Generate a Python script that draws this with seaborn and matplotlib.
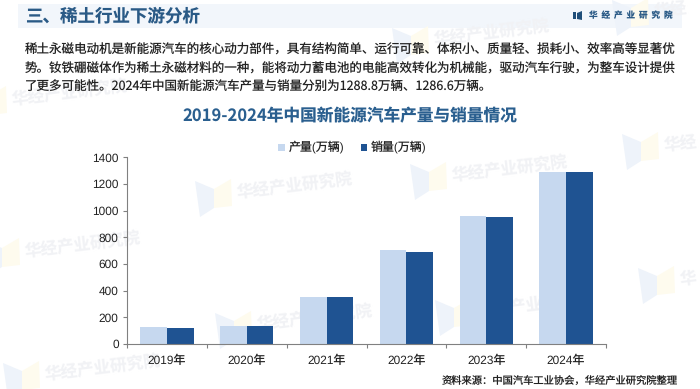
# 2019-2024 中国新能源汽车产量与销量
import matplotlib
matplotlib.use('Agg')
import matplotlib.pyplot as plt
import seaborn as sns
import pandas as pd
from matplotlib.patches import Polygon, Rectangle

years = ['2019年', '2020年', '2021年', '2022年', '2023年', '2024年']
output = [124.2, 136.6, 354.5, 705.8, 958.7, 1288.8]
sales = [123.0, 136.7, 352.1, 688.7, 949.5, 1286.6]
series_names = ['产量(万辆)', '销量(万辆)']
y_ticks = [0, 200, 400, 600, 800, 1000, 1200, 1400]

header = '三、稀土行业下游分析'
brand = '华  经  产  业  研  究  院'
chart_title = '2019-2024年中国新能源汽车产量与销量情况'
source = '资料来源：中国汽车工业协会，华经产业研究院整理'
body_lines = [
    '稀土永磁电动机是新能源汽车的核心动力部件，具有结构简单、运行可靠、体积小、质量轻、损耗小、效率高等显著优',
    '势。钕铁硼磁体作为稀土永磁材料的一种，能将动力蓄电池的电能高效转化为机械能，驱动汽车行驶，为整车设计提供',
    '了更多可能性。2024年中国新能源汽车产量与销量分别为1288.8万辆、1286.6万辆。',
]
# 水印位置（像素）和文字，靠右边的只留露出来的字
wm_full = '华经产业研究院'
watermarks = [(-30, 100, wm_full), (-17, 252, wm_full), (3, 375, wm_full), (195, 193, wm_full),
              (215, 325, wm_full), (410, 176, wm_full), (435, 312, wm_full), (392, 40, wm_full),
              (622, 146, '华经'), (638, 280, '华'), (612, 12, '华经')]

sns.set_theme(style='white')
plt.rcParams['font.family'] = ['Liberation Sans', 'Noto Sans CJK SC', 'DejaVu Sans']
plt.rcParams['text.hinting'] = 'no_hinting'
cjk = ['Noto Sans CJK SC', 'DejaVu Sans']

fig = plt.figure(figsize=(7, 3.89), dpi=100, facecolor='white')

# 背景层，按像素坐标放
bg = fig.add_axes([0, 0, 1, 1], zorder=0)
bg.set_xlim(0, 700)
bg.set_ylim(389, 0)
bg.axis('off')
bg.add_patch(Rectangle((18, 4), 664, 24, color='#f2f6fb', lw=0))
for wx, wy, wtext in watermarks:
    bg.add_patch(Polygon([(wx, wy - 12), (wx + 19, wy - 4), (wx + 19, wy + 15), (wx + 5, wy + 24)],
                         color='#eef3fa', lw=0))
    bg.add_patch(Polygon([(wx + 19, wy - 4), (wx + 36, wy - 14), (wx + 37, wy + 13), (wx + 19, wy + 15)],
                         color='#fefbee', lw=0))
    bg.text(wx + 42, wy, wtext, family=cjk, fontsize=12, weight='bold', color='#f1f2f5',
            rotation=7, ha='left', va='center', rotation_mode='anchor')
bg.add_patch(Rectangle((573, 12), 3, 7, color='#1f4e79', lw=0))
bg.add_patch(Polygon([(577, 13), (582, 11), (582, 20), (577, 19)], color='#1f4e79', lw=0))

bg.text(25, 16.5, header, family=cjk, fontsize=12.6, weight='bold', color='#2a5a86', ha='left', va='center')
bg.text(589, 15.5, brand, family=cjk, fontsize=6.2, weight='bold', color='#2a5a86', ha='left', va='center')
for i, line in enumerate(body_lines):
    bg.text(25, 49.5 + i * 19, line, family=cjk, fontsize=9.03, color='#222222', ha='left', va='center')
bg.text(350, 116, chart_title, family=cjk, fontsize=12, weight='bold', color='#2a5f8f', ha='center', va='center')
bg.text(442, 381, source, family=cjk, fontsize=7.4, color='#222222', ha='left', va='center')

# 柱状图
df = pd.DataFrame({'year': years * 2,
                   'value': output + sales,
                   'series': [series_names[0]] * 6 + [series_names[1]] * 6})
ax = fig.add_axes([127 / 700, 1 - 344 / 389, 479 / 700, 186.7 / 389], zorder=1)
ax.patch.set_alpha(0)
sns.barplot(data=df, x='year', y='value', hue='series', ax=ax, width=0.667, gap=0,
            palette=['#c6d8ef', '#1f5392'], saturation=1, legend=False, edgecolor='none')

ax.set_xlim(-0.5, 5.5)
ax.set_ylim(0, 1400)
ax.set_yticks(y_ticks)
ax.set_xlabel('')
ax.set_ylabel('')
sns.despine(ax=ax)
for side in ['left', 'bottom']:
    ax.spines[side].set_color('#808080')
    ax.spines[side].set_linewidth(0.8)
ax.tick_params(axis='y', length=3, width=0.8, color='#808080', labelsize=8.6, labelcolor='#222222', pad=3, left=True)
ax.tick_params(axis='x', length=0, labelsize=8.6, labelcolor='#222222', pad=8)
ax.set_xticks([i - 0.5 for i in range(7)], minor=True)
ax.tick_params(axis='x', which='minor', length=3, width=0.8, color='#808080', bottom=True)

# 图例
bg.add_patch(Rectangle((277.5, 144), 7, 7, color='#c6d8ef', lw=0))
bg.add_patch(Rectangle((360.5, 144), 6, 7, color='#1f5392', lw=0))
bg.text(289, 147, series_names[0], fontsize=8.6, color='#222222', ha='left', va='center')
bg.text(371, 147, series_names[1], fontsize=8.6, color='#222222', ha='left', va='center')

fig.savefig('out.png', dpi=100)
